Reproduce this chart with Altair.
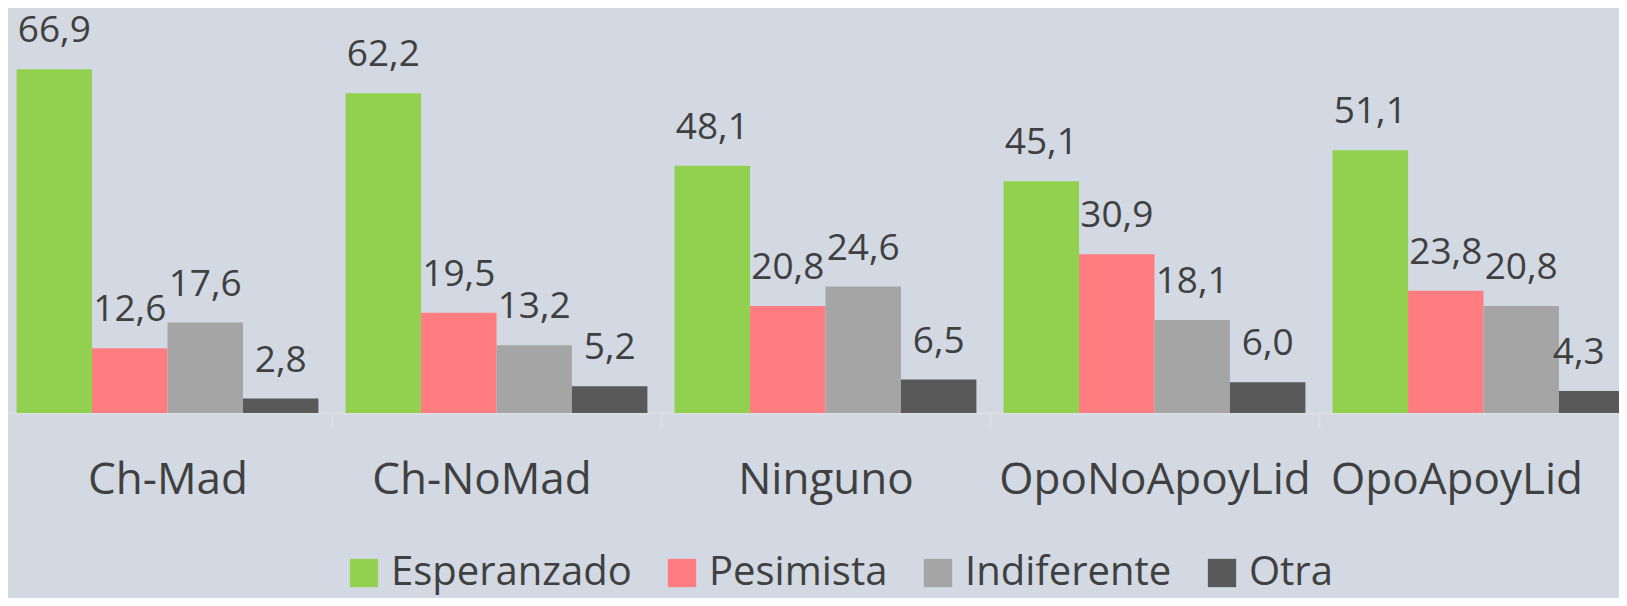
import altair as alt
import pandas as pd

categories = ["Ch-Mad", "Ch-NoMad", "Ninguno", "OpoNoApoyLid", "OpoApoyLid"]
series = ["Esperanzado", "Pesimista", "Indiferente", "Otra"]
esperanzado = [66.9, 62.2, 48.1, 45.1, 51.1]
pesimista = [12.6, 19.5, 20.8, 30.9, 23.8]
indiferente = [17.6, 13.2, 24.6, 18.1, 20.8]
otra = [2.8, 5.2, 6.5, 6.0, 4.3]
colors = ["#92D050", "#FF7C80", "#A5A5A5", "#595959"]

rows = []
for s, vals in zip(series, [esperanzado, pesimista, indiferente, otra]):
    for c, v in zip(categories, vals):
        rows.append({"cat": c, "serie": s, "val": v})
df = pd.DataFrame(rows)

FONT = "Open Sans"
TXT = "#404040"

x_enc = alt.X(
    "cat:N",
    sort=categories,
    scale=alt.Scale(range=[-5, 1640], paddingInner=0, paddingOuter=0),
    axis=alt.Axis(
        title=None,
        labelAngle=0,
        labelFont=FONT,
        labelFontSize=44,
        labelColor=TXT,
        labelBaseline="alphabetic",
        labelPadding=64,
        labelLimit=0,
        labelOffset={
            "condition": [
                {"test": "datum.value === 'Ch-NoMad'", "value": -15},
                {"test": "datum.value === 'OpoApoyLid'", "value": -27},
            ],
            "value": 0,
        },
        domainColor="#DCDFE3",
        domainWidth=2,
        tickColor="#DCDFE3",
        tickWidth=2,
        tickSize=16,
        tickBand="extent",
        grid=False,
    ),
)
xoff_enc = alt.XOffset("serie:N", sort=series, scale=alt.Scale(paddingInner=0, paddingOuter=0.18))
y_enc = alt.Y("val:Q", scale=alt.Scale(domain=[0, 78.8], nice=False, zero=True), axis=None)

bars = alt.Chart(df).mark_bar(clip=True).encode(
    x=x_enc,
    xOffset=xoff_enc,
    y=y_enc,
    color=alt.Color(
        "serie:N",
        sort=series,
        scale=alt.Scale(domain=series, range=colors),
        legend=alt.Legend(
            title=None,
            orient="none",
            direction="horizontal",
            legendX=336,
            legendY=545,
            padding=0,
            labelFont=FONT,
            labelFontSize=40,
            labelColor=TXT,
            labelLimit=0,
            symbolType="square",
            symbolSize=800,
            symbolStrokeWidth=0,
            symbolOpacity=1,
            labelOffset=7,
            columnPadding=30,
        ),
    ),
)

is_edge = "datum.cat === 'OpoApoyLid' && datum.serie === 'Otra'"

def value_labels(flt, dx):
    return alt.Chart(df).transform_filter(flt).transform_calculate(
        lab="replace(format(datum.val, '.1f'), '.', ',')"
    ).mark_text(
        baseline="alphabetic", align="center", dy=-27, dx=dx, font=FONT, fontSize=37, color=TXT
    ).encode(
        x=alt.X("cat:N", sort=categories),
        xOffset=alt.XOffset("serie:N", sort=series),
        y=alt.Y("val:Q"),
        text="lab:N",
    )

labels = value_labels("!(" + is_edge + ")", 0)
edge_label = value_labels(is_edge, -18)

chart = (
    alt.layer(bars, labels, edge_label)
    .properties(
        width=1611,
        height=405,
        autosize=alt.AutoSizeParams(type="none"),
        padding={"left": 0, "top": 0, "right": 0, "bottom": 185},
        background="#D2D9E2",
    )
    .configure_view(stroke=None)
)

chart.save("out.html", embed_options={"renderer": "svg", "actions": False})
